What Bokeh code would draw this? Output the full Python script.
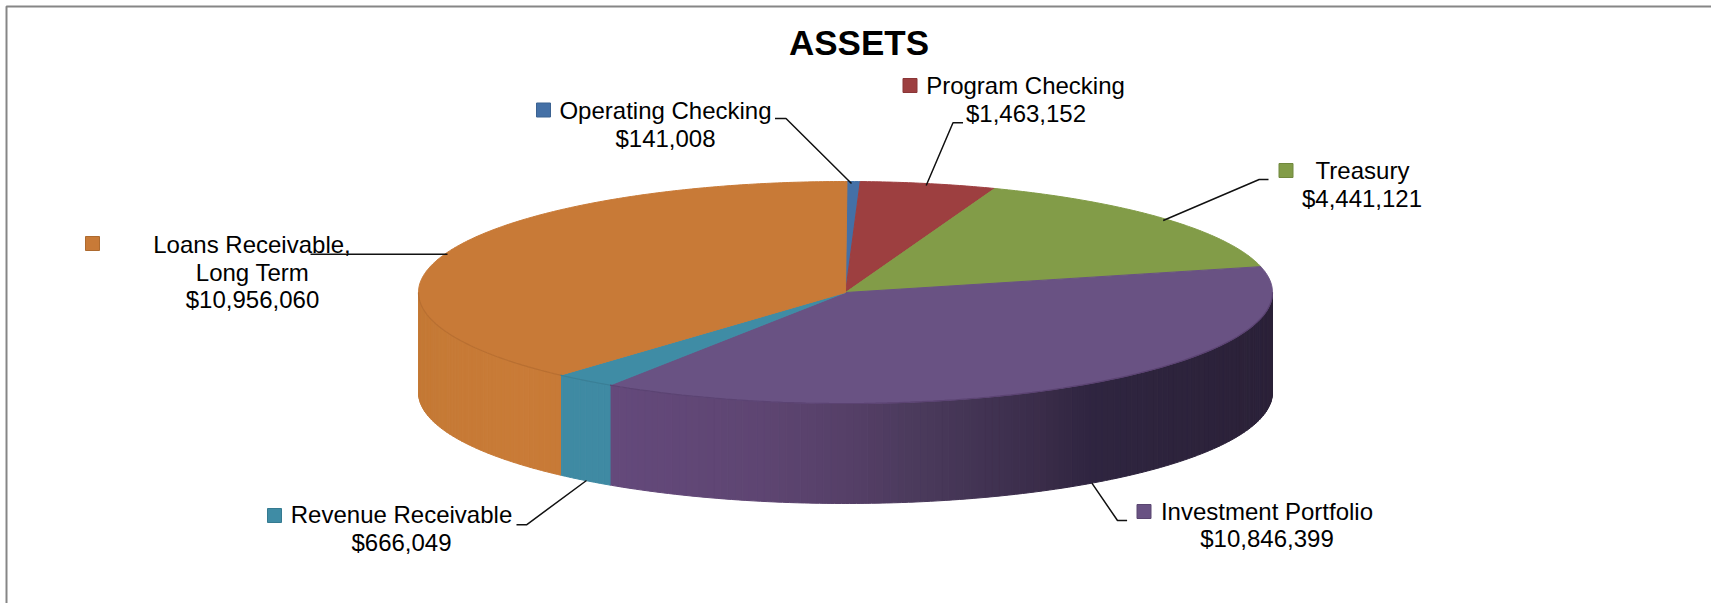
import numpy as np
from bokeh.embed import file_html
from bokeh.resources import INLINE
from bokeh.plotting import figure
from bokeh.core.properties import value
from bokeh.models import Range1d

title = "ASSETS"
categories = ["Operating Checking", "Program Checking", "Treasury", "Investment Portfolio", "Revenue Receivable", "Loans Receivable, Long Term"]
values = [141008, 1463152, 4441121, 10846399, 666049, 10956060]
value_labels = ["$141,008", "$1,463,152", "$4,441,121", "$10,846,399", "$666,049", "$10,956,060"]
colors = ["#4470a6", "#9d3f40", "#829c48", "#695283", "#3f8ca5", "#c87a37"]

W, H = 1711, 603
CX, CY, RX, RY, DEPTH = 845, 292, 427, 111, 100
START = 0.2

def mix(stops, x):
    xs = [s[0] for s in stops]
    cs = np.array([[int(s[1][i:i+2], 16) for i in (1, 3, 5)] for s in stops], float)
    return "#%02x%02x%02x" % tuple(int(round(np.interp(x, xs, cs[:, k]))) for k in range(3))

side_stops = {
    3: [(610, "#64497b"), (760, "#5e4572"), (850, "#553f67"), (920, "#4a3a5b"), (1000, "#3f3150"),
        (1040, "#3a2c49"), (1090, "#2f2540"), (1272, "#2b2138")],
    4: [(560, "#3f8aa3"), (611, "#3f8aa3")],
    5: [(418, "#c47935"), (445, "#c67a36"), (520, "#c97b37"), (561, "#c77a37")],
}

p = figure(width=W, height=H, x_range=Range1d(0, W), y_range=Range1d(H, 0),
           output_backend="svg", toolbar_location=None, min_border=0,
           outline_line_color=None, background_fill_color="white", border_fill_color="white")
p.axis.visible = False
p.grid.visible = False
p.styles = {"margin": "0px"}

# frame (open on the right and at the bottom, as cropped)
p.line([6, 6, W], [H, 6, 6], line_color="#868686", line_width=2)

fr = START + np.cumsum([0] + values) / sum(values) * 360.0

def pt(theta, dy=0.0):
    t = np.radians(theta)
    return CX + RX * np.sin(t), CY - RY * np.cos(t) + dy

# side wall: thin strips shaded across x, from the data's angles
for i in range(6):
    a, b = fr[i], fr[i + 1]
    lo, hi = max(a, 90.0), min(b, 270.0)
    if lo >= hi or i not in side_stops:
        continue
    edges = np.append(np.arange(lo, hi, 1.0), hi)
    sx, sy, sc = [], [], []
    for t0, t1 in zip(edges[:-1], edges[1:]):
        ts = np.linspace(t0, t1, 3)
        x0, y0 = pt(ts)
        sx.append(list(x0) + list(x0[::-1]))
        sy.append(list(y0) + list((y0 + DEPTH)[::-1]))
        sc.append(mix(side_stops[i], x0.mean()))
    p.patches(sx, sy, fill_color=sc, line_color=sc, line_width=1)

# top face
tx, ty = [], []
for i in range(6):
    ts = np.arange(fr[i], fr[i + 1], 0.5)
    ts = np.append(ts, fr[i + 1])
    x0, y0 = pt(ts)
    tx.append([CX] + list(x0))
    ty.append([CY] + list(y0))
p.patches(tx, ty, fill_color=colors, line_color=colors, line_width=1)

# rim shading on the front edge of the top face
for i, col in ((5, "#b86f31"), (4, "#3a7f96"), (3, "#5b4372")):
    ts = np.linspace(max(fr[i], 90), min(fr[i + 1], 270), 80)
    x0, y0 = pt(ts)
    p.line(x0, y0, line_color=col, line_width=1.2)

# leader lines
lead_x = [[774.5, 785.5, 851], [962.5, 952.5, 925.7], [1268, 1258.7, 1162.7],
          [1126.6, 1117, 1091.4], [516, 526, 586], [310, 447]]
lead_y = [[118, 118, 183], [122.3, 122.3, 185], [179, 179, 220],
          [520, 520, 482.7], [524.3, 524.3, 480], [253.7, 253.7]]
p.multi_line(lead_x, lead_y, line_color="#111111", line_width=1.5)

# legend keys
key_x = [543, 909.5, 1285.5, 1143.5, 274, 92]
key_y = [109.5, 85, 170, 511, 515, 243]
border = ["#3b6291", "#8a3637", "#71883e", "#5a4671", "#357a90", "#ad6a2f"]
p.scatter(key_x, key_y, marker="square", size=14, fill_color=colors, line_color=border, line_width=1)

# labels
lab_x = [665, 665, 1025, 1025.5, 1362, 1361.5, 1266.5, 1266.5, 401, 401, 251.5, 252, 252]
lab_y = [109.5, 138, 85, 113, 170, 198, 511, 538, 513.7, 542, 244, 271.7, 299]
lab_t = [categories[0], value_labels[0], categories[1], value_labels[1], categories[2], value_labels[2],
         categories[3], value_labels[3], categories[4], value_labels[4],
         "Loans Receivable,", "Long Term", value_labels[5]]
p.text(lab_x, lab_y, text=lab_t, text_font=value("Liberation Sans"), text_font_size="24px",
       text_color="#000000", text_align="center", text_baseline="middle")

p.text([858.5], [42], text=[title], text_font=value("Liberation Sans"), text_font_size="35px",
       text_font_style="bold", text_color="#000000", text_align="center", text_baseline="middle")

open("out.html", "w").write(file_html(p, INLINE))
